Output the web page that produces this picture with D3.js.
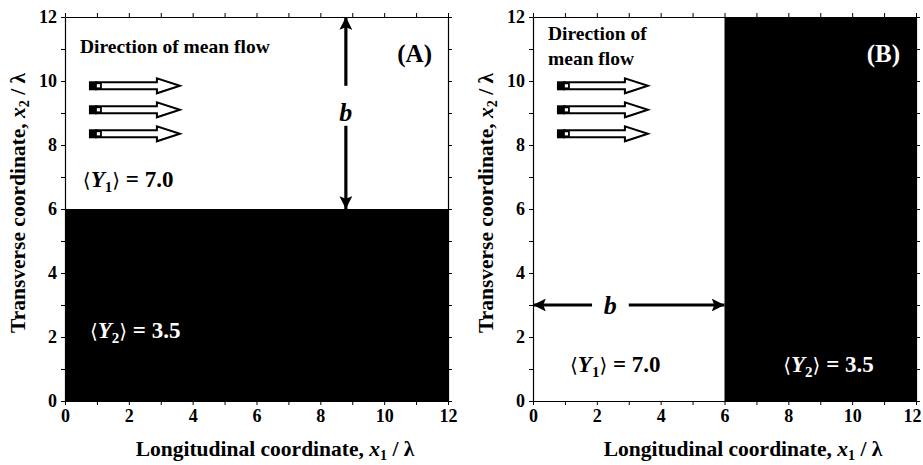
<!DOCTYPE html>
<html>
<head>
<meta charset="utf-8">
<script src="https://cdn.jsdelivr.net/npm/d3@7"></script>
<style>
  body { margin: 0; background: #fff; }
  text { font-family: "Liberation Serif", "Times New Roman", serif; font-weight: bold; }
</style>
</head>
<body>
<svg id="chart" width="923" height="465"></svg>
<script>
// domain of both panels, in units of lambda
let domain = [0, 12];
let xTicks = [0, 1, 2, 3, 4, 5, 6, 7, 8, 9, 10, 11, 12];
let yTicks = [0, 1, 2, 3, 4, 5, 6, 7, 8, 9, 10, 11, 12];

// mean log conductivity of the two layers
let layerMeans = [7.0, 3.5];
// layer thickness b
let bWidth = 6;

// black region of each panel: [x0, x1, y0, y1]
let blackA = [0, 12, 0, 6];
let blackB = [6, 12, 0, 12];

// three flow arrows, at these x2 values
let arrowRows = [9.85, 9.1, 8.35];

let svg = d3.select("#chart");

function drawPanel(opt) {
    let x = d3.scaleLinear().domain(domain).range([opt.left, opt.left + 383]);
    let y = d3.scaleLinear().domain(domain).range([401, 17]);
    let g = svg.append("g");

    // dark layer
    g.append("rect")
        .attr("x", x(opt.black[0]))
        .attr("y", y(opt.black[3]))
        .attr("width", x(opt.black[1]) - x(opt.black[0]))
        .attr("height", y(opt.black[2]) - y(opt.black[3]))
        .attr("fill", "#000");

    let fmt = d => (d % 2 === 0 ? String(d) : "");

    let axes = [
        {ax: d3.axisBottom(x), ticks: xTicks, t: `translate(0,${y(0)})`, lab: true},
        {ax: d3.axisTop(x), ticks: xTicks, t: `translate(0,${y(12)})`, lab: false},
        {ax: d3.axisLeft(y), ticks: yTicks, t: `translate(${x(0)},0)`, lab: true},
        {ax: d3.axisRight(y), ticks: yTicks, t: `translate(${x(12)},0)`, lab: false}
    ];
    axes.forEach(function (a, k) {
        a.ax.tickValues(a.ticks).tickSizeInner(4).tickSizeOuter(0).tickPadding(4)
            .tickFormat(a.lab ? fmt : () => "");
        let ag = g.append("g").attr("transform", a.t).call(a.ax);
        ag.select(".domain").attr("stroke", "#000").attr("stroke-width", 1.2);
        ag.selectAll(".tick line").attr("stroke", "#000").attr("stroke-width", 1);
        ag.selectAll(".tick text")
            .style("font-family", "'Liberation Serif', serif")
            .style("font-weight", "bold")
            .style("font-size", "18px")
            .attr("fill", "#000");
        // keep the last bottom label inside the page
        if (k === 0 && opt.lastShift) {
            ag.selectAll(".tick text").filter(d => d === 12).attr("dx", -opt.lastShift);
        }
    });
    g.selectAll("text").filter(function () { return this.textContent === ""; }).remove();

    // axis titles
    let xt = g.append("text")
        .attr("x", opt.left + 210)
        .attr("y", 456)
        .attr("text-anchor", "middle")
        .attr("font-size", 21.5);
    xt.append("tspan").text("Longitudinal coordinate, ");
    xt.append("tspan").attr("font-style", "italic").text("x");
    xt.append("tspan").attr("font-size", 14).attr("dy", 4).text("1");
    xt.append("tspan").attr("dy", -4).text(" / λ");

    let yt = g.append("text")
        .attr("transform", `translate(${opt.left - 40},203) rotate(-90)`)
        .attr("text-anchor", "middle")
        .attr("font-size", 21.5);
    yt.append("tspan").text("Transverse coordinate, ");
    yt.append("tspan").attr("font-style", "italic").text("x");
    yt.append("tspan").attr("font-size", 14).attr("dy", 4).text("2");
    yt.append("tspan").attr("dy", -4).text(" / λ");

    // panel letter
    g.append("text")
        .attr("x", x(12) - 16)
        .attr("y", 62)
        .attr("text-anchor", "end")
        .attr("font-size", 25)
        .attr("fill", opt.letterFill)
        .text(opt.letter);

    // "Direction of mean flow"
    let dt = g.append("text")
        .attr("font-size", 19.5);
    opt.dirLines.forEach(function (line, i) {
        dt.append("tspan")
            .attr("x", opt.left + opt.dirDx)
            .attr("y", opt.dirY + i * 25)
            .text(line);
    });

    // flow arrows
    let ax0 = x(opt.arrowX0), ax1 = x(opt.arrowX1);
    let ag = g.append("g");
    arrowRows.forEach(function (r) {
        let cy = y(r);
        let sh = 3.5, hh = 7.5, headL = 23;
        let start = ax0 + 7;
        let pts = [
            [start, cy - sh], [ax1 - headL, cy - sh], [ax1 - headL, cy - hh],
            [ax1, cy], [ax1 - headL, cy + hh], [ax1 - headL, cy + sh],
            [start, cy + sh]
        ];
        ag.append("path")
            .attr("d", "M" + pts.map(p => p.join(",")).join("L") + "Z")
            .attr("fill", "#fff")
            .attr("stroke", "#000")
            .attr("stroke-width", 2);
        ag.append("rect")
            .attr("x", ax0).attr("y", cy - 4.5)
            .attr("width", 8).attr("height", 9)
            .attr("fill", "#000");
        ag.append("rect")
            .attr("x", ax0 + 7).attr("y", cy - 2.5)
            .attr("width", 5).attr("height", 5)
            .attr("fill", "#fff")
            .attr("stroke", "#000")
            .attr("stroke-width", 1.8);
    });

    // layer means
    opt.means.forEach(function (m) {
        let t = g.append("text")
            .attr("x", x(m.x))
            .attr("y", m.y)
            .attr("font-size", 23)
            .attr("fill", m.fill);
        t.append("tspan").attr("font-family", "DejaVu Serif, serif").attr("font-weight", "normal").attr("font-size", 20).text("⟨");
        t.append("tspan").attr("font-style", "italic").text("Y");
        t.append("tspan").attr("font-size", 15).attr("dy", 5).text(m.sub);
        t.append("tspan").attr("dy", -5).attr("font-family", "DejaVu Serif, serif").attr("font-weight", "normal").attr("font-size", 20).text("⟩");
        t.append("tspan").text(" = " + layerMeans[m.idx].toFixed(1));
    });

    return {x: x, y: y, g: g};
}

let defs = svg.append("defs");
defs.append("marker")
    .attr("id", "head")
    .attr("viewBox", "0 0 10 10")
    .attr("refX", 10).attr("refY", 5)
    .attr("markerWidth", 4).attr("markerHeight", 4)
    .attr("markerUnits", "strokeWidth")
    .attr("orient", "auto-start-reverse")
    .append("path")
    .attr("d", "M0,0L10,5L0,10L2,5Z")
    .attr("fill", "#000");

// panel A
let pA = drawPanel({
    left: 65, black: blackA, letter: "(A)", letterFill: "#000",
    dirDx: 15, dirY: 53, dirLines: ["Direction of mean flow"],
    arrowX0: 0.75, arrowX1: 3.6, lastShift: 0,
    means: [{x: 0.56, y: 187, fill: "#000", sub: "1", idx: 0},
            {x: 0.78, y: 338, fill: "#fff", sub: "2", idx: 1}]
});

// vertical b arrow (from layer boundary to top)
let bx = 8.8;
[[pA.y(12 - bWidth), pA.y(8.6)], [pA.y(12), pA.y(9.85)]].forEach(function (s) {
    pA.g.append("line")
        .attr("x1", pA.x(bx)).attr("x2", pA.x(bx))
        .attr("y1", s[1]).attr("y2", s[0])
        .attr("stroke", "#000").attr("stroke-width", 3.2)
        .attr("marker-end", "url(#head)");
});
pA.g.append("text")
    .attr("x", pA.x(bx)).attr("y", pA.y(9) + 8)
    .attr("text-anchor", "middle")
    .attr("font-size", 26).attr("font-style", "italic")
    .text("b");

// panel B
let pB = drawPanel({
    left: 533, black: blackB, letter: "(B)", letterFill: "#fff",
    dirDx: 15, dirY: 40, dirLines: ["Direction of", "mean flow"],
    arrowX0: 0.75, arrowX1: 3.6, lastShift: 4,
    means: [{x: 1.16, y: 372, fill: "#000", sub: "1", idx: 0},
            {x: 7.84, y: 372, fill: "#fff", sub: "2", idx: 1}]
});

// horizontal b arrow
let by = 3;
[[pB.x(0), pB.x(1.85)], [pB.x(bWidth), pB.x(3.0)]].forEach(function (s) {
    pB.g.append("line")
        .attr("y1", pB.y(by)).attr("y2", pB.y(by))
        .attr("x1", s[1]).attr("x2", s[0])
        .attr("stroke", "#000").attr("stroke-width", 3.2)
        .attr("marker-end", "url(#head)");
});
pB.g.append("text")
    .attr("x", pB.x(2.42)).attr("y", pB.y(by) + 9)
    .attr("text-anchor", "middle")
    .attr("font-size", 26).attr("font-style", "italic")
    .text("b");
</script>
</body>
</html>
